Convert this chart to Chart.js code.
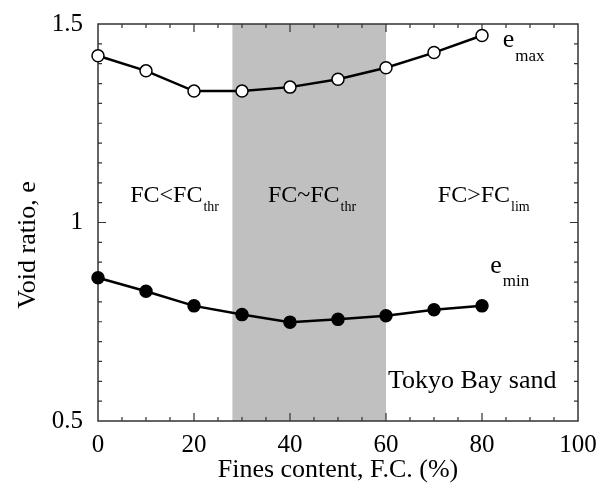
<!DOCTYPE html>
<html>
<head>
<meta charset="utf-8">
<script src="https://cdn.jsdelivr.net/npm/chart.js@4"></script>
<style>
  body { margin: 0; background: #fff; }
  canvas { display: block; }
</style>
</head>
<body>
<canvas id="voidChart" width="600" height="492"></canvas>
<script>
// data
const finesContent = [0, 10, 20, 30, 40, 50, 60, 70, 80];
const eMax = [1.42, 1.382, 1.331, 1.331, 1.341, 1.361, 1.39, 1.428, 1.471];
const eMin = [0.861, 0.827, 0.79, 0.768, 0.749, 0.756, 0.765, 0.78, 0.79];
const shadedRange = [28, 60];
const xTicks = [0, 20, 40, 60, 80, 100];
const yTicks = [0.5, 1, 1.5];

const serif = "'Liberation Serif', 'Times New Roman', serif";

// text labels placed in data coordinates: [text, subscript, x, y, size, subSize, subDrop]
const notes = [
  ["FC<FC", "thr", 6.7, 1.052, 24, 14, 9],
  ["FC~FC", "thr", 35.4, 1.052, 24, 14, 9],
  ["FC>FC", "lim", 70.8, 1.052, 24, 14, 9],
  ["e", "max", 84.3, 1.442, 26, 17, 14],
  ["e", "min", 81.7, 0.873, 26, 17, 13],
  ["Tokyo Bay sand", "", 60.4, 0.584, 26, 0, 0]
];

// drop the label overflow padding so the plot box keeps its fixed size
const noPad = s => {
  s.paddingTop = 0; s.paddingBottom = 0;
  s.paddingLeft = 0; s.paddingRight = 0;
};

const frame = {
  id: "frame",
  beforeDatasetsDraw(chart) {
    const { ctx, chartArea: a, scales: { x, y } } = chart;
    ctx.save();
    // shaded band
    ctx.fillStyle = "#c0c0c0";
    const x0 = x.getPixelForValue(shadedRange[0]);
    const x1 = x.getPixelForValue(shadedRange[1]);
    ctx.fillRect(x0, a.top, x1 - x0, a.bottom - a.top);

    // frame
    ctx.strokeStyle = "#333";
    ctx.lineWidth = 1.5;
    ctx.strokeRect(a.left, a.top, a.right - a.left, a.bottom - a.top);

    // inward ticks on all four sides
    ctx.lineWidth = 1.2;
    ctx.beginPath();
    for (let v = 5; v < 100; v += 5) {
      const px = x.getPixelForValue(v);
      const len = v % 20 === 0 ? 8 : 4;
      ctx.moveTo(px, a.bottom); ctx.lineTo(px, a.bottom - len);
      ctx.moveTo(px, a.top); ctx.lineTo(px, a.top + len);
    }
    for (let i = 1; i < 20; i++) {
      const v = 0.5 + i * 0.05;
      const py = y.getPixelForValue(v);
      const len = i === 10 ? 8 : 4;
      ctx.moveTo(a.left, py); ctx.lineTo(a.left + len, py);
      ctx.moveTo(a.right, py); ctx.lineTo(a.right - len, py);
    }
    ctx.stroke();
    ctx.restore();
  },
  afterDraw(chart) {
    const { ctx, scales: { x, y } } = chart;
    ctx.save();
    ctx.fillStyle = "#000";
    ctx.textBaseline = "alphabetic";
    ctx.textAlign = "left";
    notes.forEach(([txt, sub, vx, vy, size, subSize, drop]) => {
      const px = x.getPixelForValue(vx);
      const py = y.getPixelForValue(vy);
      ctx.font = size + "px " + serif;
      ctx.fillText(txt, px, py);
      if (sub) {
        const w = ctx.measureText(txt).width;
        ctx.font = subSize + "px " + serif;
        ctx.fillText(sub, px + w + 1, py + drop);
      }
    });

    // y axis title
    ctx.font = "26px " + serif;
    ctx.textAlign = "center";
    ctx.translate(35, 245);
    ctx.rotate(-Math.PI / 2);
    ctx.fillText("Void ratio, e", 0, 0);
    ctx.restore();
  }
};

new Chart(document.getElementById("voidChart"), {
  type: "line",
  data: {
    datasets: [
      {
        label: "e max",
        data: finesContent.map((f, i) => ({ x: f, y: eMax[i] })),
        borderColor: "#000",
        borderWidth: 2.5,
        pointRadius: 6,
        pointBorderWidth: 1.5,
        pointBackgroundColor: "#fff",
        pointBorderColor: "#000",
        clip: false
      },
      {
        label: "e min",
        data: finesContent.map((f, i) => ({ x: f, y: eMin[i] })),
        borderColor: "#000",
        borderWidth: 2.5,
        pointRadius: 6,
        pointBorderWidth: 1.5,
        pointBackgroundColor: "#000",
        pointBorderColor: "#000",
        clip: false
      }
    ]
  },
  options: {
    responsive: false,
    animation: false,
    layout: { autoPadding: false, padding: { top: 24, right: 22, left: 0, bottom: 0 } },
    plugins: {
      legend: { display: false },
      tooltip: { enabled: false }
    },
    scales: {
      x: {
        type: "linear",
        min: 0,
        max: 100,
        afterBuildTicks: s => { s.ticks = xTicks.map(v => ({ value: v })); },
        afterFit: s => { s.height = 71; noPad(s); },
        grid: { display: false, drawTicks: false },
        border: { display: false },
        ticks: {
          color: "#000",
          padding: 9,
          maxRotation: 0,
          font: { family: serif, size: 25 }
        },
        title: {
          display: true,
          text: "Fines content, F.C. (%)",
          color: "#000",
          font: { family: serif, size: 26 },
          padding: { top: 0, bottom: 6 }
        }
      },
      y: {
        type: "linear",
        min: 0.5,
        max: 1.5,
        afterBuildTicks: s => { s.ticks = yTicks.map(v => ({ value: v })); },
        afterFit: s => { s.width = 98; noPad(s); },
        grid: { display: false, drawTicks: false },
        border: { display: false },
        ticks: {
          color: "#000",
          padding: 15,
          callback: v => String(v),
          font: { family: serif, size: 25 }
        }
      }
    }
  },
  plugins: [frame]
});
</script>
</body>
</html>
